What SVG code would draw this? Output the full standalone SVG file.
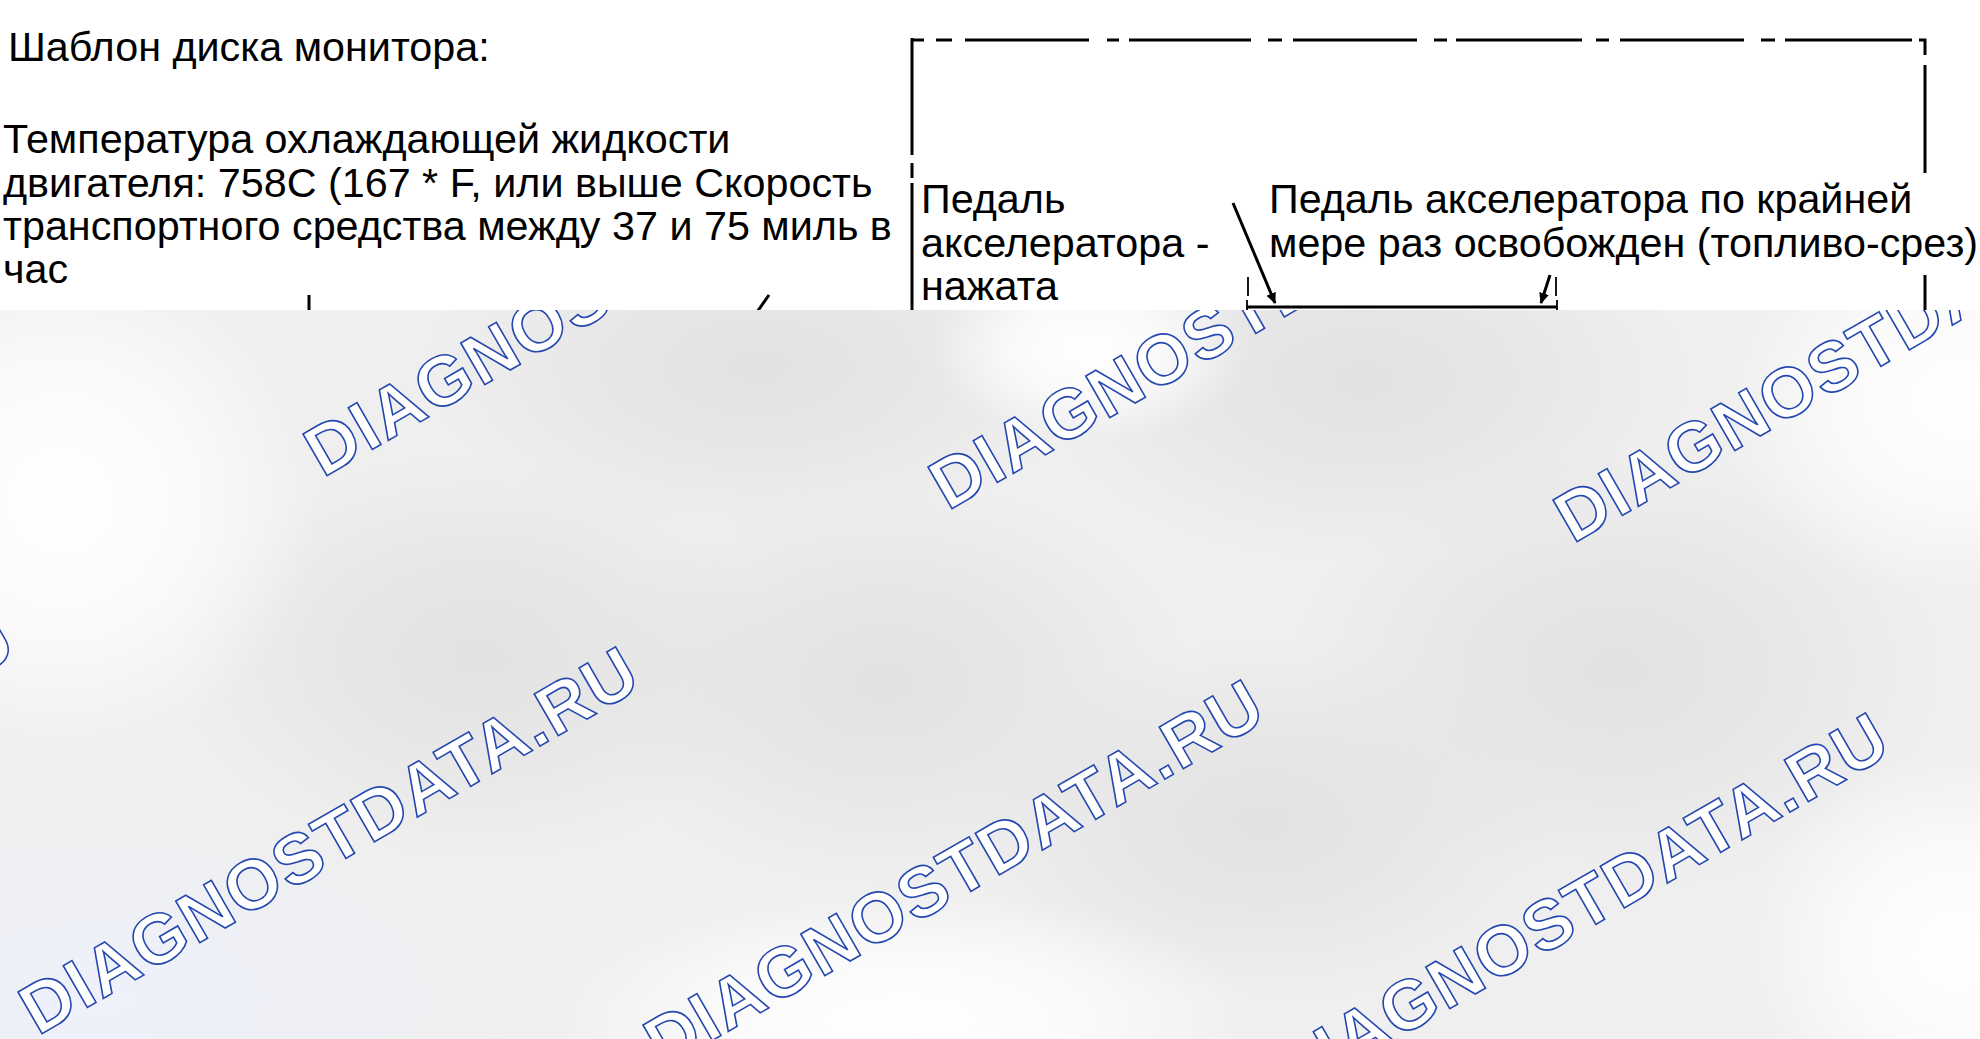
<svg xmlns="http://www.w3.org/2000/svg" width="1980" height="1039" viewBox="0 0 1980 1039">
<style>
  .t { font-family: "Liberation Sans", Arial, sans-serif; font-size: 41.3px; fill: #000; }
  .ln { stroke: #000; stroke-width: 3; fill: none; }
  .thin { stroke: #000; stroke-width: 1.8; fill: none; }
  .wm { font-family: "Liberation Sans", Arial, sans-serif; font-weight: bold; font-size: 70px; fill: #fff; stroke: #2447b0; stroke-width: 1.6; }
</style>
<defs>
  <marker id="ah" markerUnits="userSpaceOnUse" markerWidth="12" markerHeight="10" refX="10" refY="5" orient="auto">
    <path d="M0,0 L11,5 L0,10 z" fill="#000"/>
  </marker>
  <clipPath id="ovclip"><rect x="0" y="310" width="1980" height="729"/></clipPath>
  <radialGradient id="g1"><stop offset="0" stop-color="#e2e2e2" stop-opacity="1"/><stop offset="0.5" stop-color="#e2e2e2" stop-opacity="0.6"/><stop offset="1" stop-color="#e2e2e2" stop-opacity="0"/></radialGradient>
  <radialGradient id="w1"><stop offset="0" stop-color="#ffffff" stop-opacity="1"/><stop offset="0.5" stop-color="#ffffff" stop-opacity="0.7"/><stop offset="1" stop-color="#ffffff" stop-opacity="0"/></radialGradient>
  <radialGradient id="b1"><stop offset="0" stop-color="#eef1fb" stop-opacity="1"/><stop offset="1" stop-color="#eef1fb" stop-opacity="0"/></radialGradient>
</defs>
<rect x="0" y="0" width="1980" height="1039" fill="#fff"/>

<g id="title"><text class="t" x="8" y="61">Шаблон диска монитора:</text></g>

<g id="conditions">
  <text class="t" x="3" y="153">Температура охлаждающей жидкости</text>
  <text class="t" x="3" y="197">двигателя: 758C (167 * F, или выше Скорость</text>
  <text class="t" x="3" y="240">транспортного средства между 37 и 75 миль в</text>
  <text class="t" x="3" y="283">час</text>
</g>

<g id="box">
  <path class="ln" d="M912,40 H924 M936,40 H952 M965,40 H1089 M1107,40 H1119 M1129,40 H1251 M1268,40 H1282 M1293,40 H1417 M1434,40 H1447 M1456,40 H1582 M1596,40 H1609 M1620,40 H1744 M1761,40 H1775 M1785,40 H1912"/>
  <path class="ln" d="M1919,40 H1925 V55 M1925,65 V173 M1925,275 V312"/>
  <path class="ln" d="M912,38 V155 M912,163 V178 M912,183 V312"/>
</g>

<g id="label-pressed">
  <text class="t" x="921" y="213">Педаль</text>
  <text class="t" x="921" y="257">акселератора -</text>
  <text class="t" x="921" y="300">нажата</text>
</g>

<g id="label-released">
  <text class="t" x="1269" y="213">Педаль акселератора по крайней</text>
  <text class="t" x="1269" y="257">мере раз освобожден (топливо-срез)</text>
</g>

<g id="connectors">
  <path class="ln" stroke-width="4" d="M1247,307 H1557"/>
  <path class="thin" d="M1248,277 V296 M1556,277 V296 M1247,300 V312 M1557,300 V312"/>
  <path class="ln" stroke-width="3.5" d="M1233,203 L1275,303" marker-end="url(#ah)"/>
  <path class="ln" stroke-width="3.5" d="M1550,275 L1541,303" marker-end="url(#ah)"/>
  <path class="ln" d="M309,295 V312"/>
  <path class="ln" stroke-width="4" d="M769,295 L757,312"/>
</g>

<g id="overlay">
  <rect x="0" y="310" width="1980" height="729" fill="#efefef"/>
  <g clip-path="url(#ovclip)">
    <ellipse cx="758" cy="366" rx="330" ry="170" fill="url(#g1)"/>
    <ellipse cx="1364" cy="379" rx="320" ry="180" fill="url(#g1)"/>
    <ellipse cx="480" cy="657" rx="300" ry="200" fill="url(#g1)"/>
    <ellipse cx="884" cy="682" rx="300" ry="200" fill="url(#g1)"/>
    <ellipse cx="1616" cy="669" rx="320" ry="220" fill="url(#g1)"/>
    <ellipse cx="1263" cy="821" rx="300" ry="180" fill="url(#g1)"/>
    <ellipse cx="60" cy="500" rx="260" ry="260" fill="url(#w1)"/>
    <ellipse cx="1090" cy="350" rx="160" ry="90" fill="url(#w1)"/>
    <ellipse cx="1960" cy="400" rx="240" ry="200" fill="url(#w1)"/>
    <ellipse cx="1960" cy="950" rx="220" ry="200" fill="url(#w1)"/>
    <ellipse cx="900" cy="1020" rx="360" ry="130" fill="url(#w1)"/>
    <ellipse cx="100" cy="1000" rx="420" ry="200" fill="url(#b1)"/>
  </g>
</g>

<g id="watermarks" clip-path="url(#ovclip)">
  <text class="wm" textLength="699" lengthAdjust="spacing" transform="translate(-302,445) rotate(-30)">DIAGNOSTDATA.RU</text>
  <text class="wm" textLength="699" lengthAdjust="spacing" transform="translate(323,478) rotate(-30)">DIAGNOSTDATA.RU</text>
  <text class="wm" textLength="699" lengthAdjust="spacing" transform="translate(948,511) rotate(-30)">DIAGNOSTDATA.RU</text>
  <text class="wm" textLength="699" lengthAdjust="spacing" transform="translate(1573,544) rotate(-30)">DIAGNOSTDATA.RU</text>
  <text class="wm" textLength="699" lengthAdjust="spacing" transform="translate(-587,1003) rotate(-30)">DIAGNOSTDATA.RU</text>
  <text class="wm" textLength="699" lengthAdjust="spacing" transform="translate(38,1036) rotate(-30)">DIAGNOSTDATA.RU</text>
  <text class="wm" textLength="699" lengthAdjust="spacing" transform="translate(663,1069) rotate(-30)">DIAGNOSTDATA.RU</text>
  <text class="wm" textLength="699" lengthAdjust="spacing" transform="translate(1288,1102) rotate(-30)">DIAGNOSTDATA.RU</text>
</g>
</svg>
